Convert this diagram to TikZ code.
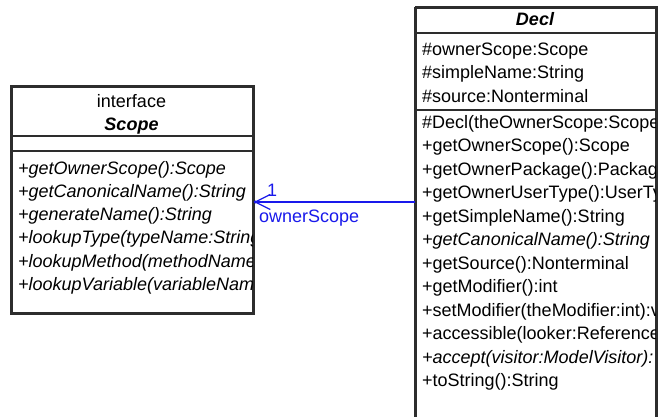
\documentclass[tikz,border=0pt]{standalone}
\usepackage{fontspec}
\setmainfont{Liberation Sans}
\usetikzlibrary{arrows.meta}
\definecolor{umlblue}{RGB}{25,25,235}
\definecolor{umlline}{RGB}{45,45,45}
\begin{document}
\begin{tikzpicture}[x=1pt,y=-1pt,
  font=\fontsize{18}{21}\selectfont,
  umlbox/.style={draw=umlline, line width=1.8pt, fill=white, inner sep=0pt, anchor=north west},
  boxline/.style={draw=umlline, line width=1.8pt},
  row/.style={anchor=base west, inner sep=0pt, text=black},
  title/.style={anchor=base, inner sep=0pt, text=black},
  assoc/.style={draw=umlblue, line width=1.4pt, -{Straight Barb[length=15pt,width=15pt,line width=1.3pt]}},
  assoclabel/.style={anchor=base west, inner sep=0pt, text=umlblue}]
\clip (0,0) rectangle (658,416);
\fill[white] (0,0) rectangle (658,416);

% ---------- Scope ----------
\node[umlbox, minimum width=241pt, minimum height=226pt] (scope) at (11,86) {};
\draw[boxline] (scope.west |- 0,136) -- (scope.east |- 0,136);
\draw[boxline] (scope.west |- 0,151) -- (scope.east |- 0,151);
\begin{scope}
\clip (scope.north west) rectangle (scope.south east);
\node[title] (sInt) at (131.5,107) {interface};
\node[title] (sName) at (131.5,130) {\bfseries\itshape Scope};
\node[row] (s1) at (18,174.3) {\itshape +getOwnerScope():Scope};
\node[row] (s2) at (18,197.5) {\itshape +getCanonicalName():String};
\node[row] (s3) at (18,220.7) {\itshape +generateName():String};
\node[row] (s4) at (18,243.9) {\itshape +lookupType(typeName:String};
\node[row] (s5) at (18,267.1) {\itshape +lookupMethod(methodName};
\node[row] (s6) at (18,290.3) {\itshape +lookupVariable(variableNam};
\end{scope}
\draw[boxline] (scope.north west) rectangle (scope.south east);

% ---------- Decl ----------
\node[umlbox, minimum width=240pt, minimum height=420pt] (decl) at (415,7) {};
\draw[boxline] (decl.west |- 0,33) -- (decl.east |- 0,33);
\draw[boxline] (decl.west |- 0,110) -- (decl.east |- 0,110);
\begin{scope}
\clip (decl.north west) rectangle (decl.south east);
\node[title] (dName) at (535,25) {\bfseries\itshape Decl};
\node[row] (a1) at (422,55) {\#ownerScope:Scope};
\node[row] (a2) at (422,78.5) {\#simpleName:String};
\node[row] (a3) at (422,102) {\#source:Nonterminal};
\node[row] (m1) at (422,128) {\#Decl(theOwnerScope:Scope};
\node[row] (m2) at (422,151.5) {+getOwnerScope():Scope};
\node[row] (m3) at (422,175) {+getOwnerPackage():Package};
\node[row] (m4) at (422,198.5) {+getOwnerUserType():UserTy};
\node[row] (m5) at (422,222) {+getSimpleName():String};
\node[row] (m6) at (422,245.5) {\itshape +getCanonicalName():String};
\node[row] (m7) at (422,269) {+getSource():Nonterminal};
\node[row] (m8) at (422,292.5) {+getModifier():int};
\node[row] (m9) at (422,316) {+setModifier(theModifier:int):v};
\node[row] (m10) at (422,339.5) {+accessible(looker:Reference};
\node[row] (m11) at (422,363) {\itshape +accept(visitor:ModelVisitor):};
\node[row] (m12) at (422,386.5) {+toString():String};
\end{scope}
\draw[boxline] (decl.north west) -- (decl.south west);
\draw[boxline] (decl.north west) -- (decl.north east) -- (decl.south east);

% ---------- association ----------
\coordinate (assocStart) at (decl.west |- 0,202);
\coordinate (assocEnd) at (scope.east |- 0,202);
\draw[assoc] (assocStart) -- (assocEnd);
\fill[umlblue] (assocEnd) ++(1.5,0) circle (1.6pt);
\node[assoclabel] (mult) at (267,196) {1};
\node[assoclabel] (role) at (259,222) {ownerScope};
\end{tikzpicture}
\end{document}
